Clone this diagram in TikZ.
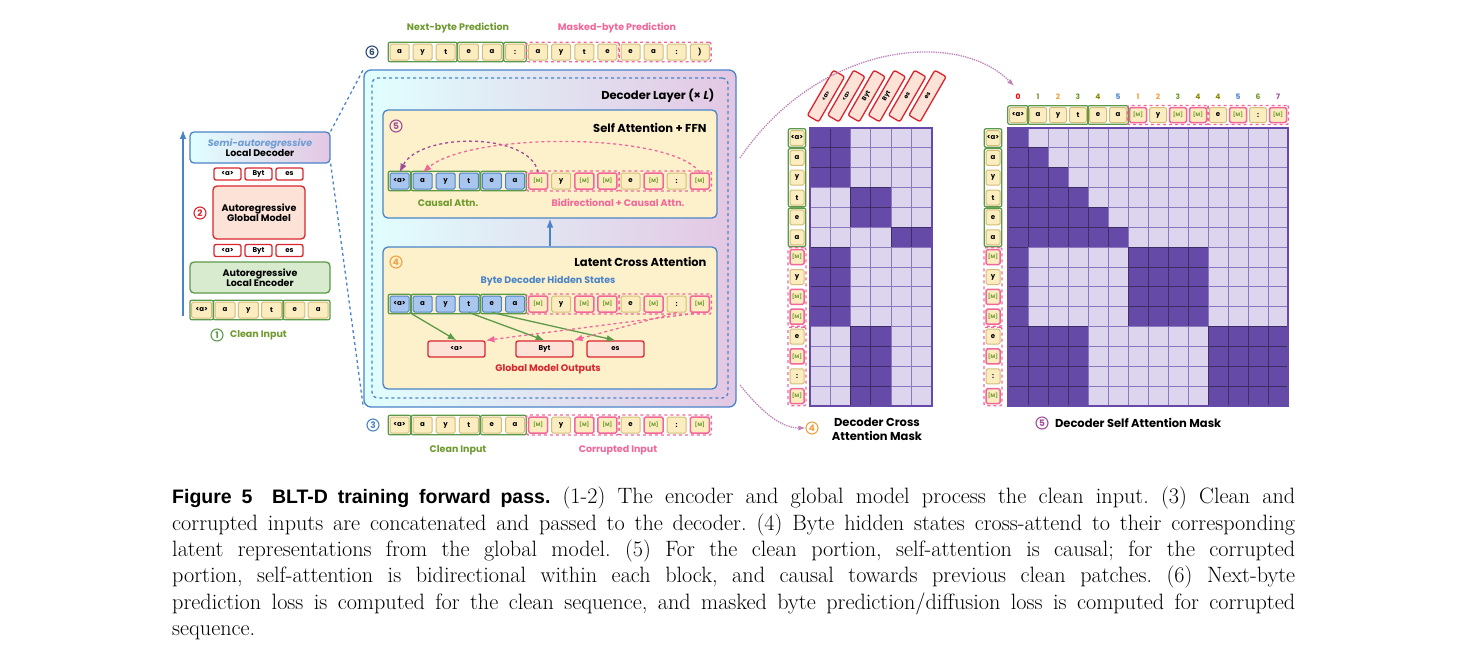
\documentclass[tikz,border=0pt]{standalone}
\usepackage{fontspec}
\setsansfont{Poppins}
\newfontfamily\capsf{Liberation Sans}
\usetikzlibrary{positioning,fit,arrows.meta}
\definecolor{tokY}{HTML}{FBEDC0}
\definecolor{tokBd}{HTML}{D6BC78}
\definecolor{tokB}{HTML}{A9C7EE}
\definecolor{blueBd}{HTML}{4A84C8}
\definecolor{grnBd}{HTML}{5C9A4A}
\definecolor{grnF}{HTML}{D8EBCF}
\definecolor{grnT}{HTML}{6E9A2E}
\definecolor{pnk}{HTML}{F2679A}
\definecolor{redBd}{HTML}{D9262E}
\definecolor{redF}{HTML}{FDE2D8}
\definecolor{dkP}{HTML}{654BA7}
\definecolor{ltP}{HTML}{DDD5EE}
\definecolor{pan}{HTML}{FDF1CC}
\definecolor{purA}{HTML}{A04D98}
\definecolor{orA}{HTML}{F0A040}

\tikzset{
  tok/.style={draw=tokBd,fill=tokY,rounded corners=1.5pt,minimum width=19pt,minimum height=16pt,
    inner sep=0pt,line width=1pt,font=\sffamily\bfseries\fontsize{7}{7}\selectfont},
  ty/.style={},
  tb/.style={fill=tokB,draw=blueBd},
  tm/.style={draw=pnk,line width=1.5pt,text=grnT,font=\sffamily\bfseries\fontsize{5}{5}\selectfont},
  vt/.style={minimum width=14pt,minimum height=15pt},
  grpC/.style={draw=grnBd,line width=1.3pt,rounded corners=2pt,inner sep=1.3pt},
  grpK/.style={draw=pnk,dashed,line width=1.3pt,rounded corners=2pt,inner sep=1.3pt},
  rtok/.style={draw=redBd,fill=white,line width=1.3pt,rounded corners=2pt,minimum width=27pt,minimum height=12pt,
    inner sep=0pt,font=\sffamily\bfseries\fontsize{7}{7}\selectfont},
  num/.style={circle,draw=#1,text=#1,line width=1.1pt,inner sep=0pt,minimum size=12pt,
    font=\sffamily\bfseries\fontsize{9}{9}\selectfont},
  ttl/.style={font=\sffamily\bfseries\fontsize{11.5}{12}\selectfont},
  lbl/.style={font=\sffamily\bfseries\fontsize{9.5}{10}\selectfont},
  panel/.style={draw=blueBd,fill=pan,line width=1.3pt,rounded corners=5pt},
  cell0/.style={fill=ltP,draw=dkP!75,line width=0.9pt},
  cell1/.style={fill=dkP,draw=dkP!60!black,line width=0.9pt},
  dots/.style={densely dotted,line width=1.3pt,draw=purA!70,-{Latex[length=7pt]}},
}
% lignes de bytes
\def\corrB{{<a>}/tb,a/tb,y/tb,t/tb,e/tb,a/tb,[M]/tm,y/ty,[M]/tm,[M]/tm,e/ty,[M]/tm,:/ty,[M]/tm}
\def\corrY{{<a>}/ty,a/ty,y/ty,t/ty,e/ty,a/ty,[M]/tm,y/ty,[M]/tm,[M]/tm,e/ty,[M]/tm,:/ty,[M]/tm}
\newcommand{\byterow}[3]{\foreach \t/\s [count=\i from 0] in #3 {\node[tok,\s] (#1\i) at ({399.5+23.1*\i},#2) {\t};}}
\newcommand{\grps}[1]{\node[grpC,fit=(#10)] {}; \node[grpC,fit=(#11)(#13)] {}; \node[grpC,fit=(#14)(#15)] {};
  \node[grpK,fit=(#16)(#19)] {}; \node[grpK,fit=(#110)(#113)] {};}

\begin{document}
\begin{tikzpicture}[x=1pt,y=-1pt]
\useasboundingbox[fill=white] (0,0) rectangle (1460,657);

% pile de gauche
\coordinate (la0) at (183,316);
\coordinate (la1) at (183,130);
\draw[blueBd,line width=1.3pt,-{Latex}] (la0) -- (la1);
\node[draw=blueBd,line width=1.3pt,rounded corners=4pt,left color=cyan!12,right color=violet!22,
  minimum width=140pt,minimum height=31pt,align=center,lbl] (ld) at (260,147.5)
  {{\color{blueBd!80}\itshape Semi-autoregressive}\\Local Decoder};
\node[draw=redBd,fill=redF,line width=1.3pt,rounded corners=4pt,minimum width=92pt,minimum height=53pt,
  align=center,lbl] (gm) at (259,212.5) {Autoregressive\\Global Model};
\node[num=redBd] (n2) at (200,213) {2};
\foreach \t [count=\j from 0] in {{<a>},Byt,es} {
  \node[rtok] (gt\j) at ({227.5+31*\j},174) {\t};
  \node[rtok] (gb\j) at ({227.5+31*\j},250.5) {\t};
}
\node[draw=grnBd,fill=grnF,line width=1.3pt,rounded corners=4pt,minimum width=140pt,minimum height=31pt,
  align=center,lbl] (le) at (260,277.5) {Autoregressive\\Local Encoder};
\foreach \t [count=\i from 0] in {{<a>},a,y,t,e,a} \node[tok,minimum width=20pt] (l\i) at ({201.7+23.3*\i},310) {\t};
\node[grpC,fit=(l0)] {}; \node[grpC,fit=(l1)(l3)] {}; \node[grpC,fit=(l4)(l5)] {};
\node[num=grnBd] (n1) at (217,335) {1};
\node[lbl,text=grnT,right=3pt of n1] {Clean Input};

% bloc decodeur
\node[draw=blueBd,line width=1.3pt,rounded corners=7pt,left color=cyan!12,right color=violet!22,
  minimum width=372pt,minimum height=337pt] (dec) at (550,238.5) {};
\node[draw=blueBd,dashed,line width=1.3pt,rounded corners=6pt,minimum width=356pt,minimum height=320pt] (dl) at (550,238) {};
\draw[blueBd,dashed,line width=1.3pt] (ld.north east) -- (dec.north west);
\draw[blueBd,dashed,line width=1.3pt] (ld.south east) -- (dec.south west);
\node[ttl,anchor=east] at (718,96) {Decoder Layer (× \textit{L})};

\node[panel,minimum width=334pt,minimum height=108pt] (sa) at (550,164) {};
\node[num=purA] at (396,126) {5};
\node[ttl,anchor=east] at (710,128) {Self Attention + FFN};
\byterow{s}{181}{\corrB}
\grps{s}
\node[lbl,text=grnT] at (448,203) {Causal Attn.};
\node[lbl,text=pnk] at (618,203) {Bidirectional + Causal Attn.};
\draw[purA,dashed,line width=1.3pt,-{Latex}] (s6.north) .. controls (530,132) and (420,132) .. (s0.north);
\draw[pnk,dashed,line width=1.3pt,-{Latex}] (s13.north) .. controls (670,132) and (470,132) .. (s1.north);

\node[panel,minimum width=334pt,minimum height=142pt] (ca) at (550,318) {};
\draw[blueBd,line width=1.3pt,-{Latex}] (ca.north) -- (sa.south);
\node[num=orA] at (396,262) {4};
\node[ttl,anchor=east] at (710,262) {Latent Cross Attention};
\node[lbl,text=blueBd] at (548,281) {Byte Decoder Hidden States};
\byterow{c}{304}{\corrB}
\grps{c}
\foreach \t/\x [count=\j from 0] in {{<a>}/456.5,Byt/544.5,es/615.5}
  \node[rtok,fill=redF,minimum width=57pt,minimum height=16pt] (o\j) at (\x,349) {\t};
\node[lbl,text=redBd] at (548,369) {Global Model Outputs};
\draw[grnBd,line width=1.3pt,-{Latex}] (c0.south east) -- (o0.north);
\draw[grnBd,line width=1.3pt,-{Latex}] (c3.south) -- (o1.north);
\draw[grnBd,line width=1.3pt,-{Latex}] (c4.south) -- (o2.north);
\draw[pnk,dashed,line width=1.3pt,-{Latex}] (c13.south) -- (o0.north east);
\draw[pnk,dashed,line width=1.3pt,-{Latex}] (c12.south) -- (o1.north east);

% entree 3 et sortie 6
\node[num=blueBd] at (373,425) {3};
\byterow{b}{425}{\corrY}
\grps{b}
\node[lbl,text=grnT] at (458,450) {Clean Input};
\node[lbl,text=pnk] at (618,450) {Corrupted Input};
\node[num=blueBd!60!black] at (372,52) {6};
\byterow{p}{52}{{a/ty,y/ty,t/ty,e/ty,a/ty,:/ty,a/ty,y/ty,t/ty,e/ty,e/ty,a/ty,:/ty,)/ty}}
\node[grpC,fit=(p0)(p2)] {}; \node[grpC,fit=(p3)(p4)] {}; \node[grpC,fit=(p5)] {};
\node[grpK,fit=(p6)(p9)] {}; \node[grpK,fit=(p10)(p13)] {};
\node[lbl,text=grnT] at (458,28) {Next-byte Prediction};
\node[lbl,text=pnk] at (617,28) {Masked-byte Prediction};

% masque cross attention
\foreach \r [count=\i from 0] in {{1,1,0,0,0,0},{1,1,0,0,0,0},{1,1,0,0,0,0},{0,0,1,1,0,0},{0,0,1,1,0,0},{0,0,0,0,1,1},
  {1,1,0,0,0,0},{1,1,0,0,0,0},{1,1,0,0,0,0},{1,1,0,0,0,0},{0,0,1,1,0,0},{0,0,1,1,0,0},{0,0,1,1,0,0},{0,0,1,1,0,0}}
  \foreach \v [count=\j from 0] in \r \draw[cell\v] ({810+20.3*\j},{128+19.86*\i}) rectangle ++(20.3,19.86);
\draw[dkP,line width=1.5pt] (810,128) rectangle (931.8,406);
\foreach \t/\s [count=\i from 0] in \corrY \node[tok,vt,\s] (x\i) at (797,{138+19.86*\i}) {\t};
\node[grpC,fit=(x0)] {}; \node[grpC,fit=(x1)(x3)] {}; \node[grpC,fit=(x4)(x5)] {};
\node[grpK,fit=(x6)(x9)] {}; \node[grpK,fit=(x10)(x13)] {};
\foreach \t [count=\j from 0] in {{<a>},{<a>},Byt,Byt,es,es}
  \node[rtok,fill=redF,rotate=60,minimum width=52pt,minimum height=13pt,font=\sffamily\bfseries\fontsize{6}{6}\selectfont] (k\j) at ({826+20.3*\j},96) {\t};
\node[num=orA] (nc) at (812,428) {4};
\node[align=center,font=\sffamily\bfseries\fontsize{11.5}{14}\selectfont] at (877,429) {Decoder Cross\\Attention Mask};

% masque self attention
\foreach \r [count=\i from 0] in {
  {1,0,0,0,0,0,0,0,0,0,0,0,0,0},{1,1,0,0,0,0,0,0,0,0,0,0,0,0},{1,1,1,0,0,0,0,0,0,0,0,0,0,0},
  {1,1,1,1,0,0,0,0,0,0,0,0,0,0},{1,1,1,1,1,0,0,0,0,0,0,0,0,0},{1,1,1,1,1,1,0,0,0,0,0,0,0,0},
  {1,0,0,0,0,0,1,1,1,1,0,0,0,0},{1,0,0,0,0,0,1,1,1,1,0,0,0,0},{1,0,0,0,0,0,1,1,1,1,0,0,0,0},
  {1,0,0,0,0,0,1,1,1,1,0,0,0,0},{1,1,1,1,0,0,0,0,0,0,1,1,1,1},{1,1,1,1,0,0,0,0,0,0,1,1,1,1},
  {1,1,1,1,0,0,0,0,0,0,1,1,1,1},{1,1,1,1,0,0,0,0,0,0,1,1,1,1}}
  \foreach \v [count=\j from 0] in \r \draw[cell\v] ({1008+20*\j},{128+19.86*\i}) rectangle ++(20,19.86);
\draw[dkP,line width=1.5pt] (1008,128) rectangle (1288,406);
\foreach \t/\s [count=\i from 0] in \corrY {
  \node[tok,vt,\s] (y\i) at (993,{138+19.86*\i}) {\t};
  \node[tok,vt,\s,minimum width=17pt] (h\i) at ({1018+20*\i},115) {\t};
}
\node[grpC,fit=(y0)] {}; \node[grpC,fit=(y1)(y3)] {}; \node[grpC,fit=(y4)(y5)] {};
\node[grpK,fit=(y6)(y9)] {}; \node[grpK,fit=(y10)(y13)] {};
\node[grpC,fit=(h0)] {}; \node[grpC,fit=(h1)(h3)] {}; \node[grpC,fit=(h4)(h5)] {};
\node[grpK,fit=(h6)(h9)] {}; \node[grpK,fit=(h10)(h13)] {};
\foreach \n/\c [count=\i from 0] in {0/red,1/grnT,2/orA,3/grnT,4/olive,5/blueBd,1/orA,2/orA,3/grnT,4/olive,4/olive,5/blueBd,6/grnT,7/purA}
  \node[text=\c,font=\sffamily\bfseries\fontsize{7.5}{7.5}\selectfont] at ({1018+20*\i},97) {\n};
\node[num=purA] (ns) at (1042,423) {5};
\node[ttl,right=3pt of ns] {Decoder Self Attention Mask};

% fleches pointillees
\coordinate (d0) at (740,158);
\coordinate (d1) at (1014,86);
\coordinate (d2) at (740,385);
\draw[dots] (d0) .. controls (820,40) and (960,30) .. (d1);
\draw[dots] (d2) .. controls (760,410) and (780,428) .. (nc.west);

% legende
\node[anchor=north west,inner sep=0pt,text width=1123pt,align=justify,font=\fontsize{22.2}{26.3}\selectfont\frenchspacing] (cap) at (172,487)
{{\capsf\bfseries\fontsize{19.5}{20}\selectfont Figure 5\quad BLT-D training forward pass.} (1-2) The encoder and global model process the clean input. (3) Clean and\linebreak
corrupted inputs are concatenated and passed to the decoder. (4) Byte hidden states cross-attend to their corresponding\linebreak
latent representations from the global model. (5) For the clean portion, self-attention is causal; for the corrupted\linebreak
portion, self-attention is bidirectional within each block, and causal towards previous clean patches. (6) Next-byte\linebreak
prediction loss is computed for the clean sequence, and masked byte prediction/diffusion loss is computed for corrupted\linebreak
sequence.};
\end{tikzpicture}
\end{document}
